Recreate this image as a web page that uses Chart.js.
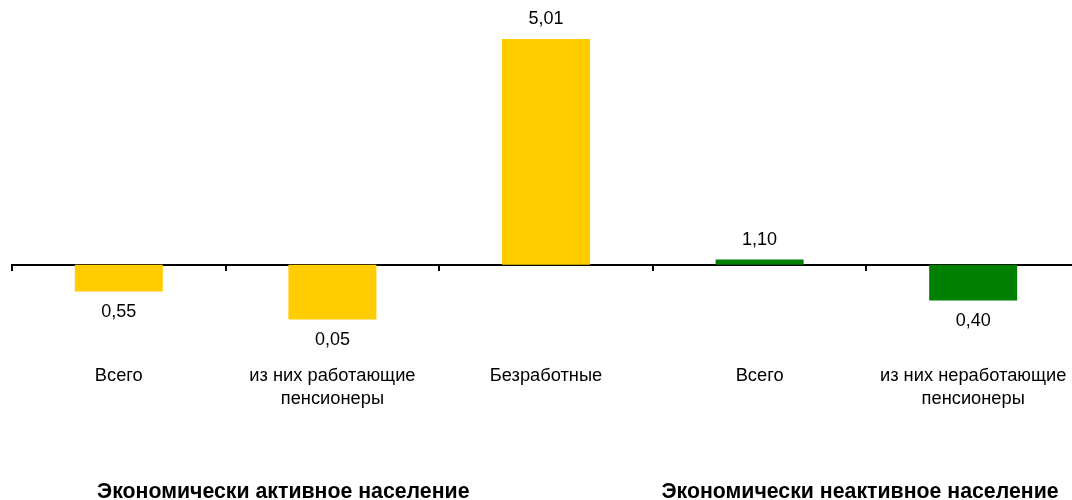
<!DOCTYPE html>
<html><head><meta charset="utf-8">
<script src="https://cdn.jsdelivr.net/npm/chart.js@4/dist/chart.umd.min.js"></script>
<style>
html,body{margin:0;padding:0;background:#fff;overflow:hidden;}
#wrap{width:1080px;height:500px;}
</style></head>
<body><div id="wrap"><canvas id="c" width="1080" height="500"></canvas></div>
<script>
const categories = [
  ["Всего"],
  ["из них работающие", "пенсионеры"],
  ["Безработные"],
  ["Всего"],
  ["из них неработающие", "пенсионеры"]
];
const barValues = [-0.59, -1.21, 5.01, 0.12, -0.79];
const valueLabels = ["0,55", "0,05", "5,01", "1,10", "0,40"];
const barColors = ["#FFCC00", "#FFCC00", "#FFCC00", "#008000", "#008000"];
const groupLabels = ["Экономически активное население", "Экономически неактивное население"];
const groupCenters = [0.77, 3.47];

const FONT = "'Liberation Sans', Arial, sans-serif";

const valueLabelPlugin = {
  id: 'valueLabels',
  afterDatasetsDraw(chart) {
    const ctx = chart.ctx;
    const meta = chart.getDatasetMeta(0);
    ctx.save();
    ctx.font = "18px " + FONT;
    ctx.fillStyle = "#000";
    ctx.textAlign = "center";
    ctx.textBaseline = "alphabetic";
    meta.data.forEach((el, i) => {
      const v = barValues[i];
      const y = v >= 0 ? el.y - 14.5 : el.y + 25.5;
      ctx.fillText(valueLabels[i], el.x, y);
    });
    ctx.restore();
  }
};

const groupLabelPlugin = {
  id: 'groupLabels',
  afterDraw(chart) {
    const ctx = chart.ctx;
    const xs = chart.scales.x;
    ctx.save();
    ctx.font = "bold 21.3px " + FONT;
    ctx.fillStyle = "#000";
    ctx.textAlign = "center";
    ctx.textBaseline = "alphabetic";
    groupLabels.forEach((t, i) => {
      ctx.fillText(t, xs.getPixelForValue(groupCenters[i]), 498);
    });
    ctx.restore();
  }
};

new Chart(document.getElementById('c'), {
  type: 'bar',
  data: {
    labels: categories,
    datasets: [{
      data: barValues,
      backgroundColor: barColors,
      borderWidth: 0,
      categoryPercentage: 1,
      barPercentage: 0.412
    }]
  },
  options: {
    responsive: false,
    animation: false,
    devicePixelRatio: 1,
    layout: { padding: { left: 12, right: 0, top: 12.4, bottom: 145 } },
    plugins: { legend: { display: false }, tooltip: { enabled: false } },
    scales: {
      y: {
        display: false,
        min: -2,
        max: 5.6
      },
      x: {
        position: { y: 0 },
        afterFit(s) { s.paddingLeft = 0; s.paddingRight = 0; s.paddingTop = 0; s.paddingBottom = 0; },
        border: { display: true, color: '#000', width: 2 },
        grid: {
          drawOnChartArea: false,
          drawTicks: true,
          tickLength: 5,
          tickWidth: 2,
          tickColor: '#000',
          lineWidth: 2,
          color: '#000'
        },
        ticks: {
          color: '#000',
          font: { family: FONT, size: 18.3, lineHeight: 1.26 },
          padding: 94.5,
          maxRotation: 0,
          autoSkip: false
        }
      }
    }
  },
  plugins: [valueLabelPlugin, groupLabelPlugin]
});
</script>
</body></html>
